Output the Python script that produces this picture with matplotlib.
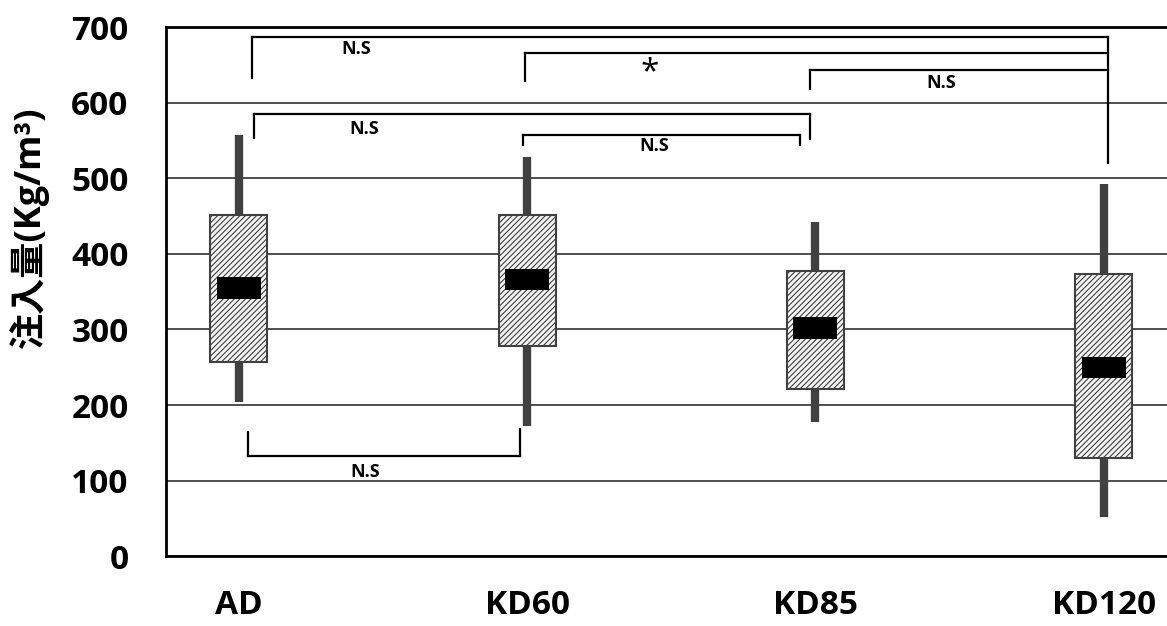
import matplotlib

matplotlib.use("Agg")
import matplotlib.pyplot as plt  # noqa: E402
import numpy as np  # noqa: E402

plt.rcParams["font.family"] = ["Open Sans", "Noto Sans CJK JP", "DejaVu Sans"]
plt.rcParams["hatch.linewidth"] = 0.8
plt.rcParams["hatch.color"] = "#303030"

groups = ["AD", "KD60", "KD85", "KD120"]
whisker_low = [204, 172, 177, 52]
q1 = [257, 278, 221, 130]
median = [355, 366, 302, 250]
q3 = [451, 451, 378, 374]
whisker_high = [557, 528, 443, 493]

# brackets: (x_left, x_right, y_bar, y_left_end, y_right_end, label, label_x, label_y)
brackets = [
    (0.045, 3.017, 688, 633, 520, "N.S", 0.406, 671),
    (0.993, 3.017, 666, 629, None, "*", 1.427, 640),
    (1.983, 3.017, 644, 618, None, "N.S", 2.438, 626),
    (0.052, 1.983, 585, 554, 552, "N.S", 0.434, 565),
    (0.986, 1.948, 558, 545, 545, "N.S", 1.441, 543),
    (0.031, 0.976, 132, 164, 168, "N.S", 0.4375, 111),
]

fig = plt.figure(figsize=(11.67, 6.26), dpi=100)
ax = fig.add_axes([0.1422, 0.1118, 0.8578, 0.8443])

x = np.arange(len(groups))
ax.vlines(x, whisker_low, whisker_high, color="#404040", lw=6, zorder=2)
ax.bar(x, np.array(q3) - np.array(q1), bottom=q1, width=0.198,
       facecolor="#f4f4f4", edgecolor="#404040", hatch="//////", lw=1.5, zorder=3)
ax.bar(x, 28, bottom=np.array(median) - 14, width=0.153, color="black", zorder=4)

for xl, xr, yb, yle, yre, lab, lx, ly in brackets:
    ax.plot([xl, xr], [yb, yb], color="black", lw=1.6, zorder=5)
    ax.plot([xl, xl], [yb, yle], color="black", lw=1.6, zorder=5)
    if yre is not None:
        ax.plot([xr, xr], [yb, yre], color="black", lw=1.6, zorder=5)
    if lab == "*":
        ax.text(lx, ly, lab, ha="center", va="center", fontsize=24, zorder=5)
    else:
        ax.text(lx, ly, lab, ha="center", va="center", fontsize=13,
                fontweight="bold", zorder=5)

ax.set_xlim(-0.253, 3.22)
ax.set_ylim(0, 700)
ax.set_yticks(np.arange(0, 701, 100))
ax.set_xticks(x)
ax.set_xticklabels(groups)
ax.yaxis.grid(True, color="#404040", lw=1.3)
ax.set_axisbelow(True)
ax.tick_params(length=0, labelsize=24)
ax.tick_params(axis="y", pad=27)
ax.tick_params(axis="x", pad=24)
for lab in ax.get_xticklabels() + ax.get_yticklabels():
    lab.set_fontweight("bold")
ax.spines["right"].set_visible(False)
for s in ["left", "bottom", "top"]:
    ax.spines[s].set_color("black")
    ax.spines[s].set_linewidth(2)
ax.set_ylabel("注入量(Kg/m³)", fontsize=26, fontweight="bold")
ax.yaxis.set_label_coords(-0.117, 0.62)

fig.savefig("out.png", dpi=100)
